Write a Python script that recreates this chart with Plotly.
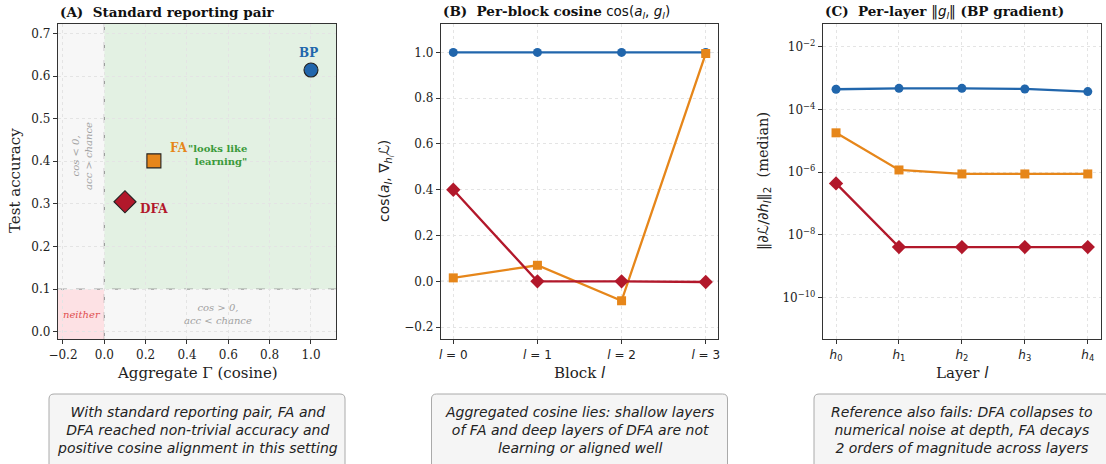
import plotly.graph_objects as go

W, H = 1106, 464

# ---------------- data ----------------
methods = ["BP", "FA", "DFA"]
colors = {"BP": "#2166ac", "FA": "#e6861a", "DFA": "#b2182b"}

# Panel A: aggregate cosine vs test accuracy
agg_cos = {"BP": 1.0, "FA": 0.24, "DFA": 0.10}
test_acc = {"BP": 0.614, "FA": 0.401, "DFA": 0.305}

# Panel B: per-block cosine
blocks = [0, 1, 2, 3]
block_labels = ["<i>l</i> = 0", "<i>l</i> = 1", "<i>l</i> = 2", "<i>l</i> = 3"]
cos_bp = [1.0, 1.0, 1.0, 1.0]
cos_fa = [0.015, 0.07, -0.085, 0.995]
cos_dfa = [0.40, 0.0, 0.0, -0.003]

# Panel C: per-layer gradient norm
layers = [0, 1, 2, 3, 4]
layer_labels = ["<i>h</i><sub>0</sub>", "<i>h</i><sub>1</sub>", "<i>h</i><sub>2</sub>",
                "<i>h</i><sub>3</sub>", "<i>h</i><sub>4</sub>"]
norm_bp = [4.4e-4, 4.7e-4, 4.7e-4, 4.5e-4, 3.7e-4]
norm_fa = [1.8e-5, 1.18e-6, 8.8e-7, 8.8e-7, 8.8e-7]
norm_dfa = [4.4e-7, 4.1e-9, 4.1e-9, 4.1e-9, 4.1e-9]

log_ticks = [1e-10, 1e-8, 1e-6, 1e-4, 1e-2]
log_ticktext = ["10<sup>−10</sup>", "10<sup>−8</sup>", "10<sup>−6</sup>", "10<sup>−4</sup>", "10<sup>−2</sup>"]

notes = [
    "With standard reporting pair, FA and<br>DFA reached non-trivial accuracy and<br>positive cosine alignment in this setting",
    "Aggregated cosine lies: shallow layers<br>of FA and deep layers of DFA are not<br>learning or aligned well",
    "Reference also fails: DFA collapses to<br>numerical noise at depth, FA decays<br>2 orders of magnitude across layers",
]

# ---------------- layout geometry ----------------
def px(x):
    return x / W

def py(y):
    return 1 - y / H

dom_y = [py(339), py(24)]
dom_a = [px(58), px(336)]
dom_b = [px(441), px(718)]
dom_c = [px(823), px(1101)]

SERIF = "DejaVu Serif"
SANS = "DejaVu Sans"
FRAME = "#333333"
GRID = "#e4e4e4"

xa_rng = [-0.224, 1.121]
ya_rng = [-0.017, 0.722]

fig = go.Figure()

markers = {"BP": "circle", "FA": "square", "DFA": "diamond"}
sizes_a = {"BP": 14, "FA": 14, "DFA": 17}
for m in methods:
    fig.add_trace(go.Scatter(
        x=[agg_cos[m]], y=[test_acc[m]], mode="markers", xaxis="x", yaxis="y",
        marker=dict(symbol=markers[m], size=sizes_a[m], color=colors[m],
                    line=dict(color="#222222", width=1.1)),
        showlegend=False, hoverinfo="skip"))

series_b = {"BP": cos_bp, "FA": cos_fa, "DFA": cos_dfa}
series_c = {"BP": norm_bp, "FA": norm_fa, "DFA": norm_dfa}
sizes_l = {"BP": 9, "FA": 9, "DFA": 11}
for m in methods:
    fig.add_trace(go.Scatter(
        x=blocks, y=series_b[m], mode="lines+markers", xaxis="x2", yaxis="y2",
        line=dict(color=colors[m], width=2.3),
        marker=dict(symbol=markers[m], size=sizes_l[m], color=colors[m]),
        showlegend=False, hoverinfo="skip"))
for m in methods:
    fig.add_trace(go.Scatter(
        x=layers, y=series_c[m], mode="lines+markers", xaxis="x3", yaxis="y3",
        line=dict(color=colors[m], width=2.3),
        marker=dict(symbol=markers[m], size=sizes_l[m], color=colors[m]),
        showlegend=False, hoverinfo="skip"))

axis_common = dict(showline=True, mirror=True, linecolor=FRAME, linewidth=1.3,
                   ticks="outside", ticklen=4, tickwidth=1, tickcolor=FRAME,
                   showgrid=True, gridcolor=GRID, griddash="dot", gridwidth=1,
                   zeroline=False, automargin=False,
                   tickfont=dict(family=SERIF, size=12, color="#222222"))

fig.update_layout(
    width=W, height=H, margin=dict(l=0, r=0, t=0, b=0, autoexpand=False),
    paper_bgcolor="white", plot_bgcolor="white",
    font=dict(family=SERIF, color="#222222"),
    xaxis=dict(domain=dom_a, range=xa_rng, anchor="y",
               tickvals=[-0.2, 0, 0.2, 0.4, 0.6, 0.8, 1.0],
               ticktext=["−0.2", "0.0", "0.2", "0.4", "0.6", "0.8", "1.0"], **axis_common),
    yaxis=dict(domain=dom_y, range=ya_rng, anchor="x",
               tickvals=[0, 0.1, 0.2, 0.3, 0.4, 0.5, 0.6, 0.7],
               ticktext=["0.0", "0.1", "0.2", "0.3", "0.4", "0.5", "0.6", "0.7"], **axis_common),
    xaxis2=dict(domain=dom_b, range=[-0.146, 3.146], anchor="y2",
                tickvals=blocks, ticktext=block_labels,
                **{**axis_common, "tickfont": dict(family=SANS, size=12, color="#222222")}),
    yaxis2=dict(domain=dom_y, range=[-0.252, 1.124], anchor="x2",
                tickvals=[-0.2, 0, 0.2, 0.4, 0.6, 0.8, 1.0],
                ticktext=["−0.2", "0.0", "0.2", "0.4", "0.6", "0.8", "1.0"], **axis_common),
    xaxis3=dict(domain=dom_c, range=[-0.207, 4.21], anchor="y3",
                tickvals=layers, ticktext=layer_labels,
                **{**axis_common, "tickfont": dict(family=SANS, size=12, color="#222222")}),
    yaxis3=dict(domain=dom_y, type="log", range=[-11.315, -1.277], anchor="x3",
                tickvals=log_ticks, ticktext=log_ticktext, **axis_common),
)

shapes = []
# quadrant backgrounds (panel A)
quad = [
    (xa_rng[0], 0, 0.1, ya_rng[1], "#f7f7f7"),
    (0, xa_rng[1], 0.1, ya_rng[1], "#e3f1e3"),
    (xa_rng[0], 0, ya_rng[0], 0.1, "#fde1e4"),
    (0, xa_rng[1], ya_rng[0], 0.1, "#f7f7f7"),
]
for x0, x1, y0, y1, c in quad:
    shapes.append(dict(type="rect", xref="x", yref="y", x0=x0, x1=x1, y0=y0, y1=y1,
                       fillcolor=c, line=dict(width=0), layer="below"))
shapes.append(dict(type="line", xref="x", yref="y", x0=0, x1=0, y0=ya_rng[0], y1=ya_rng[1],
                   line=dict(color="#8a8a8a", width=1, dash="dash"), layer="below"))
shapes.append(dict(type="line", xref="x", yref="y", x0=xa_rng[0], x1=xa_rng[1], y0=0.1, y1=0.1,
                   line=dict(color="#8a8a8a", width=1, dash="dash"), layer="below"))
# zero line panel B
shapes.append(dict(type="line", xref="x2", yref="y2", x0=-0.146, x1=3.146, y0=0, y1=0,
                   line=dict(color="#888888", width=0.8, dash="dot"), layer="below"))

# rounded note boxes
def rounded_box(x0p, x1p, y0p, y1p, r=5):
    x0, x1 = px(x0p), px(x1p)
    yt, yb = py(y0p), py(y1p)
    rx, ry = r / W, r / H
    path = (f"M {x0+rx},{yt} L {x1-rx},{yt} Q {x1},{yt} {x1},{yt-ry} "
            f"L {x1},{yb+ry} Q {x1},{yb} {x1-rx},{yb} L {x0+rx},{yb} "
            f"Q {x0},{yb} {x0},{yb+ry} L {x0},{yt-ry} Q {x0},{yt} {x0+rx},{yt} Z")
    return dict(type="path", xref="paper", yref="paper", path=path,
                fillcolor="#f5f5f5", line=dict(color="#aaaaaa", width=1))

box_centers = [197, 579.5, 962]
half_w = 148
for cx in box_centers:
    shapes.append(rounded_box(cx - half_w, cx + half_w, 394, 478))

fig.update_layout(shapes=shapes)

ann = []
C = dict(xanchor="center", yanchor="middle", showarrow=False)
# panel titles
ann.append(dict(xref="paper", yref="paper", x=dom_a[0], y=py(12), xanchor="left", yanchor="middle",
                text="<b>(A)  Standard reporting pair</b>", showarrow=False,
                font=dict(family=SERIF, size=13.5, color="#111111")))
ann.append(dict(xref="paper", yref="paper", x=dom_b[0], y=py(12), xanchor="left", yanchor="middle",
                text="<b>(B)  Per-block cosine</b> <span style='font-family:DejaVu Sans'>cos(<i>a<sub>l</sub></i>, <i>g<sub>l</sub></i>)</span>",
                showarrow=False, font=dict(family=SERIF, size=13.5, color="#111111")))
ann.append(dict(xref="paper", yref="paper", x=dom_c[0], y=py(12), xanchor="left", yanchor="middle",
                text="<b>(C)  Per-layer </b><span style='font-family:DejaVu Sans'>‖<i>g<sub>l</sub></i>‖</span><b> (BP gradient)</b>",
                showarrow=False, font=dict(family=SERIF, size=13.5, color="#111111")))

# axis titles
ann.append(dict(xref="paper", yref="paper", x=px(15), y=py(181), textangle=-90,
                text="Test accuracy", font=dict(family=SERIF, size=15), **C))
ann.append(dict(xref="paper", yref="paper", x=px(197), y=py(373),
                text="Aggregate Γ (cosine)", font=dict(family=SERIF, size=15), **C))
ann.append(dict(xref="paper", yref="paper", x=px(386), y=py(181), textangle=-90,
                text="cos(<i>a<sub>l</sub></i>, ∇<sub><i>h<sub>l</sub></i></sub><i>ℒ</i>)",
                font=dict(family=SANS, size=14), **C))
ann.append(dict(xref="paper", yref="paper", x=px(579.5), y=py(373),
                text="Block <span style='font-family:DejaVu Sans'><i>l</i></span>",
                font=dict(family=SERIF, size=15), **C))
ann.append(dict(xref="paper", yref="paper", x=px(764), y=py(181), textangle=-90,
                text="<span style='font-family:DejaVu Sans'>‖∂<i>ℒ</i>/∂<i>h<sub>l</sub></i>‖<sub>2</sub></span>  (median)",
                font=dict(family=SERIF, size=14.5), **C))
ann.append(dict(xref="paper", yref="paper", x=px(962), y=py(373),
                text="Layer <span style='font-family:DejaVu Sans'><i>l</i></span>",
                font=dict(family=SERIF, size=15), **C))

# panel A labels
ann.append(dict(xref="x", yref="y", x=0.99, y=0.653, text="<b>BP</b>",
                font=dict(family=SERIF, size=12, color=colors["BP"]), **C))
ann.append(dict(xref="x", yref="y", x=0.31, y=0.43, xanchor="left", yanchor="middle",
                text="<b>FA</b>", showarrow=False,
                font=dict(family=SERIF, size=12, color=colors["FA"])))
ann.append(dict(xref="x", yref="y", x=0.163, y=0.288, xanchor="left", yanchor="middle",
                text="<b>DFA</b>", showarrow=False,
                font=dict(family=SERIF, size=12, color=colors["DFA"])))
ann.append(dict(xref="x", yref="y", x=0.70, y=0.414, xanchor="right", yanchor="middle", align="right",
                text='<b>"looks like<br>learning"</b>', showarrow=False,
                font=dict(family=SERIF, size=10, color="#3a9a3a")))
ann.append(dict(xref="x", yref="y", x=-0.107, y=0.413, textangle=-90,
                text="cos < 0,<br>acc > chance",
                font=dict(family=SERIF, size=10, color="#a0a0a0", style="italic"), **C))
ann.append(dict(xref="x", yref="y", x=0.55, y=0.041,
                text="cos > 0,<br>acc < chance",
                font=dict(family=SERIF, size=10, color="#a0a0a0", style="italic"), **C))
ann.append(dict(xref="x", yref="y", x=-0.11, y=0.041,
                text="neither",
                font=dict(family=SERIF, size=10, color="#e05050", style="italic"), **C))

# note box texts
for cx, t in zip(box_centers, notes):
    ann.append(dict(xref="paper", yref="paper", x=px(cx), y=py(430), align="center",
                    text=t, font=dict(family=SANS, size=14, color="#222222", style="italic"), **C))

fig.update_layout(annotations=ann)

fig.write_html("out.html")
